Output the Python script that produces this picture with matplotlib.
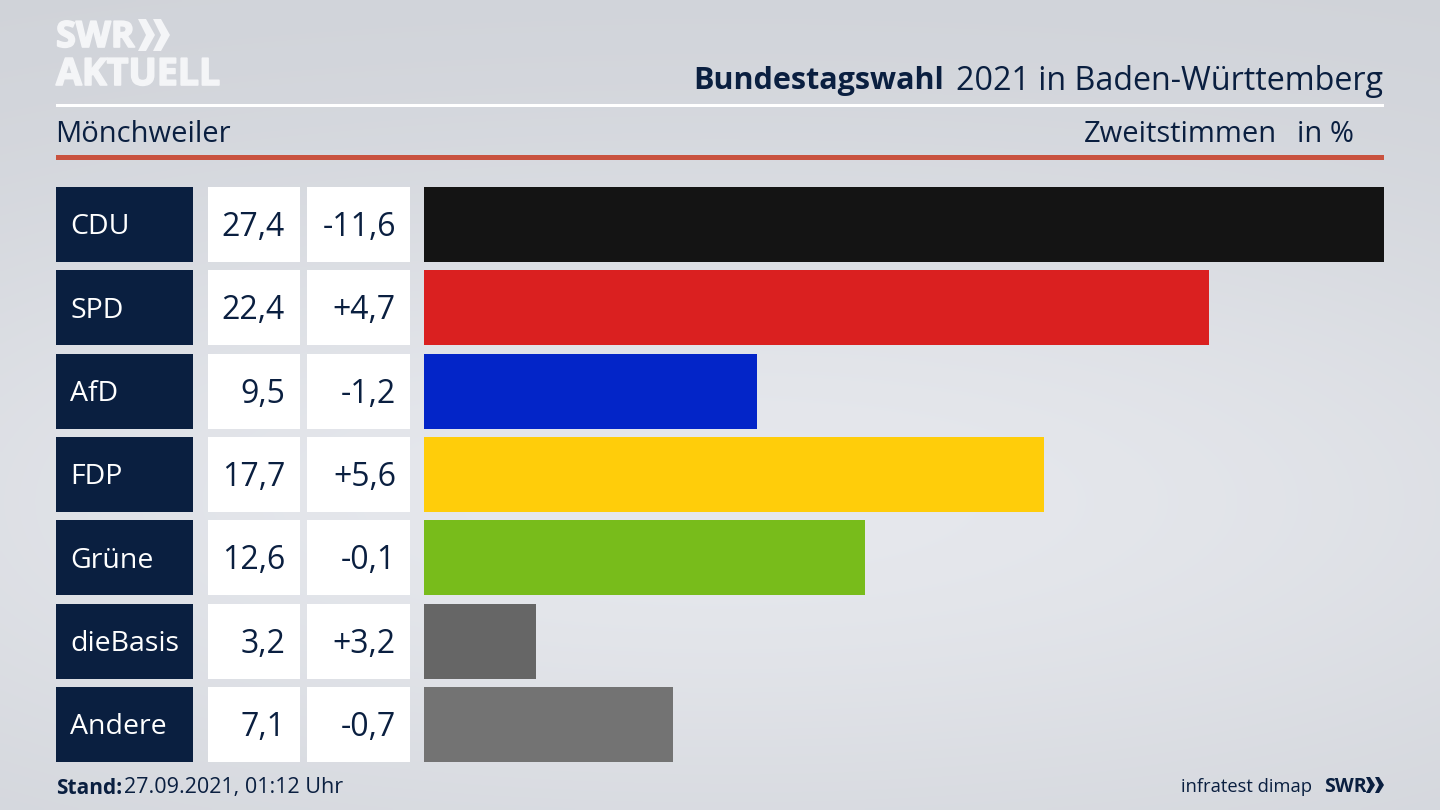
import matplotlib
matplotlib.use("Agg")
import matplotlib.pyplot as plt
import matplotlib.patheffects as pe
from matplotlib.patches import Rectangle, Polygon
import numpy as np

parties = ["CDU", "SPD", "AfD", "FDP", "Grüne", "dieBasis", "Andere"]
shares = [27.4, 22.4, 9.5, 17.7, 12.6, 3.2, 7.1]
changes = ["-11,6", "+4,7", "-1,2", "+5,6", "-0,1", "+3,2", "-0,7"]
colors = ["#141414", "#da2020", "#0325c8", "#ffcd0a", "#78bc1b", "#666666", "#737373"]

NAVY = "#0a1f40"
LOGO = "#f4f5f7"
FONT = "Open Sans"

plt.rcParams["font.family"] = [FONT, "DejaVu Sans"]

fig = plt.figure(figsize=(14.4, 8.1), dpi=100)

# whole figure in pixels, y going down
bg = fig.add_axes([0, 0, 1, 1])
bg.axis("off")

# background gradient, lightest a bit under the middle
yy, xx = np.mgrid[0:1:200j, 0:1:360j]
shade = np.exp(-(((yy - 0.62) / 0.42) ** 2)) * (1 - 0.35 * ((xx - 0.5) / 0.5) ** 2)
top = np.array([0xcf, 0xd2, 0xd8]) / 255
light = np.array([0xe6, 0xe8, 0xed]) / 255
img = top + (light - top) * shade[..., None]
bg.imshow(img, extent=[0, 1440, 810, 0], aspect="auto", zorder=0, interpolation="bilinear")
bg.set_xlim(0, 1440)
bg.set_ylim(810, 0)

# logo
thick = [pe.withStroke(linewidth=1.2, foreground=LOGO)]
bg.text(56, 38, "SWR", color=LOGO, fontsize=26, fontweight="bold", va="center", ha="left", zorder=3, path_effects=thick)
for x0 in (138, 153):
    bg.add_patch(Polygon([(x0, 19), (x0 + 8, 19), (x0 + 17, 35), (x0 + 8, 51), (x0, 51), (x0 + 8, 35)],
                         facecolor=LOGO, linewidth=0, zorder=3))
bg.text(56, 75, "AKTUELL", color=LOGO, fontsize=27, fontweight="bold", va="center", ha="left", zorder=3, path_effects=thick)

# header
bg.text(693, 81, "Bundestagswahl", color=NAVY, fontsize=22, fontweight="bold", va="center", ha="left", zorder=3)
bg.text(1383, 81, "2021 in Baden-Württemberg", color=NAVY, fontsize=23.2, va="center", ha="right", zorder=3)
bg.add_patch(Rectangle((56, 104), 1328, 3, facecolor="white", linewidth=0, zorder=2))
bg.text(55, 135, "Mönchweiler", color=NAVY, fontsize=21, va="center", ha="left", zorder=3)
bg.text(1277, 135, "Zweitstimmen", color=NAVY, fontsize=21, va="center", ha="right", zorder=3)
bg.text(1354, 135, "in %", color=NAVY, fontsize=21, va="center", ha="right", zorder=3)
bg.add_patch(Rectangle((56, 155), 1328, 5, facecolor="#c9523f", linewidth=0, zorder=2))

# table cells next to the bars
row_h = 575 / 6.9
for i, party in enumerate(parties):
    y0 = 187 + i * row_h
    ym = y0 + 37.5
    bg.add_patch(Rectangle((56, y0), 137, 75, facecolor=NAVY, linewidth=0, zorder=2))
    bg.add_patch(Rectangle((208, y0), 92, 75, facecolor="white", linewidth=0, zorder=2))
    bg.add_patch(Rectangle((307, y0), 103, 75, facecolor="white", linewidth=0, zorder=2))
    bg.text(70, ym + 3, party, color="white", fontsize=20.5, va="center", ha="left", zorder=3)
    bg.text(285, ym + 3, f"{shares[i]:.1f}".replace(".", ","), color=NAVY, fontsize=23, va="center", ha="right", zorder=3)
    bg.text(396, ym + 3, changes[i], color=NAVY, fontsize=23, va="center", ha="right", zorder=3)

# bars
ax = fig.add_axes([424 / 1440, 1 - 762 / 810, 960 / 1440, 575 / 810])
ax.patch.set_alpha(0)
ax.barh(range(len(parties)), shares, height=0.9, color=colors)
ax.set_xlim(0, max(shares))
ax.set_ylim(6.45, -0.45)
ax.axis("off")

# footer
bg.text(56, 788, "Stand:", color=NAVY, fontsize=15, fontweight="bold", va="center", ha="left", zorder=3)
bg.text(124, 788, "27.09.2021, 01:12 Uhr", color=NAVY, fontsize=15.5, va="center", ha="left", zorder=3)
bg.text(1312, 787, "infratest dimap", color=NAVY, fontsize=13.2, va="center", ha="right", zorder=3)
bg.text(1324, 787, "SWR", color=NAVY, fontsize=14, fontweight="bold", va="center", ha="left", zorder=3)
for x0 in (1366, 1375):
    bg.add_patch(Polygon([(x0, 777), (x0 + 4, 777), (x0 + 9, 785), (x0 + 4, 793), (x0, 793), (x0 + 4, 785)],
                         facecolor=NAVY, linewidth=0, zorder=3))

fig.savefig("out.png", dpi=100)
